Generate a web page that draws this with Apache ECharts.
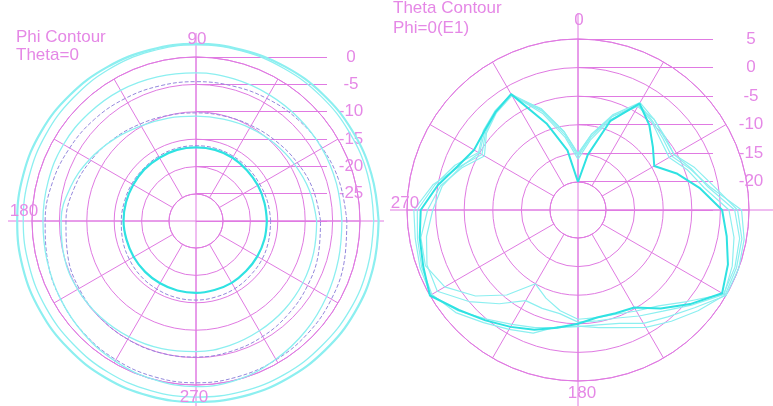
<!DOCTYPE html>
<html><head><meta charset="utf-8">
<script src="https://cdn.jsdelivr.net/npm/echarts@6/dist/echarts.min.js"></script>
<style>html,body{margin:0;padding:0;background:#fff}#c{width:773px;height:406px}</style>
</head><body><div id="c"></div><script>
// ---------- data ----------
var phiAngles = [0,15,30,45,60,75,90,105,120,135,150,165,180,195,210,225,240,255,270,285,300,315,330,345];
var phiL1 = [3.4,3.2,3.0,2.8,2.6,2.4,2.4,2.4,2.5,2.6,2.7,2.7,2.7,2.8,2.9,3.0,3.1,3.1,3.1,3.2,3.3,3.4,3.5,3.5];
var phiL2 = [2.5,2.5,2.4,2.3,2.2,2.2,2.2,2.1,2.0,1.8,1.7,1.6,1.6,1.6,1.7,1.8,2.0,2.1,2.2,2.3,2.4,2.4,2.5,2.5];
var phiL3 = [-3.3,-3.4,-3.4,-3.4,-3.3,-3.1,-2.9,-2.7,-2.4,-2.2,-2.0,-2.0,-2.0,-1.8,-1.4,-0.9,-0.4,0.0,0.3,0.0,-0.8,-1.6,-2.4,-3.0];
var phiL4 = [-2.4,-2.8,-3.3,-3.7,-4.1,-4.4,-4.5,-4.4,-4.1,-3.7,-3.3,-2.8,-2.4,-1.9,-1.4,-1.0,-0.7,-0.5,-0.4,-0.5,-0.7,-1.0,-1.4,-1.9];
var phiL5 = [-7.9,-8.5,-9.2,-9.8,-10.3,-10.7,-10.8,-10.5,-9.9,-8.8,-7.5,-6.2,-5.3,-5.0,-5.0,-5.2,-5.5,-5.8,-6.1,-6.4,-6.8,-7.1,-7.4,-7.7];
var phiL6 = [-7.2,-7.8,-8.6,-9.3,-9.8,-10.1,-10.2,-10.0,-9.5,-8.7,-7.8,-6.9,-6.2,-5.7,-5.3,-5.1,-5.0,-5.0,-5.1,-5.3,-5.6,-6.0,-6.4,-6.8];
var phiL7 = [-17.0,-17.0,-16.9,-16.8,-16.6,-16.5,-16.5,-16.5,-16.6,-16.6,-16.7,-16.7,-16.7,-16.8,-16.8,-16.8,-16.8,-16.8,-16.8,-16.9,-16.9,-17.0,-17.0,-17.0];
var phiL8 = [-16.3,-16.4,-16.5,-16.4,-16.3,-16.2,-16.2,-16.2,-16.3,-16.4,-16.4,-16.4,-16.3,-16.1,-15.9,-15.7,-15.6,-15.5,-15.5,-15.6,-15.7,-15.9,-16.0,-16.2];

var thetaAngles = [0,10,20,30,40,50,60,70,80,90,100,110,120,130,140,150,160,170,180,190,200,210,220,230,240,250,260,270,280,290,300,310,320,330,340,350];
var thR1 = [-20,-15.1,-8.3,-3.4,-5.5,-7.8,-9.5,-6.4,-3.2,0.3,1.5,3.0,4.2,0.7,-2.4,-5.2,-5.7,-5.8,-5.0,-4.0,-2.6,-1.3,0.3,2.3,5.0,3.9,3.2,2.6,0.0,-2.5,-3.9,-3.5,-2.5,-1.5,-8.8,-14.3];
var thR2 = [-15.5,-12.0,-7.5,-3.5,-4.6,-5.5,-6.0,-4.0,-1.5,3.7,4.6,5.0,5.0,1.7,-0.5,-2.0,-3.8,-4.5,-4.5,-4.0,-3.0,-1.8,0.0,2.5,4.8,4.5,4.0,3.8,0.8,-2.8,-5.5,-3.8,-2.6,-1.7,-6.5,-11.5];
var thR3 = [-15.0,-11.5,-7.5,-4.0,-4.2,-5.0,-5.5,-3.8,-1.8,2.5,3.8,4.3,4.5,0.0,-3.0,-4.5,-5.5,-5.8,-5.8,-7.0,-8.5,-10.0,-5.5,-1.5,2.0,3.5,3.0,1.4,-0.5,-3.3,-6.0,-4.0,-2.7,-1.8,-6.0,-11.0];
var thR4 = [-16.0,-12.5,-8.0,-3.8,-4.8,-6.0,-6.5,-4.5,-2.5,1.5,2.8,3.8,4.6,1.0,-1.8,-3.5,-4.8,-5.2,-5.3,-6.5,-6.6,-6.6,-3.5,0.0,3.5,3.2,2.0,0.5,-0.8,-3.0,-5.0,-3.6,-2.6,-1.6,-7.0,-12.0];
var thR5 = [-15.2,-11.5,-7.2,-3.2,-4.2,-5.2,-5.5,-3.2,-0.8,3.0,4.2,4.6,4.8,2.5,0.5,-1.2,-3.0,-4.0,-4.6,-4.2,-2.0,-0.8,0.8,3.0,4.6,4.2,3.6,3.2,0.5,-2.0,-4.8,-3.3,-2.3,-1.5,-6.2,-11.0];

var leftTicks = [-30,-25,-20,-15,-10,-5,0];
var rightTicks = [-25,-20,-15,-10,-5,0,5];
var leftAngleLabels = ['90','180','270'];
var rightAngleLabels = ['0','270','180'];
var leftTitle = ['Phi Contour','Theta=0'];
var rightTitle = ['Theta Contour','Phi=0(E1)'];

// ---------- layout ----------
var PINK = '#e07ae2', TXT = '#e588e6';
var CYAN = '#2fe2e2', CYAN_L = '#8ceff0', PURP = '#9488dc';
var FONT = '"Liberation Sans", Arial, sans-serif';
var FS = 17;
var L = {cx:196, cy:221, r0:27, r1:164, min:-25, max:0};
var R = {cx:578, cy:210, r0:28, r1:171, min:-20, max:5};
var EXTRA = 10; // dB of headroom on the (invisible) data polar

function closed(angles, vals){
  var d = angles.map(function(a,i){return [vals[i], a];});
  d.push([vals[0], 360]);
  return d;
}
function lser(pi, angles, vals, color, width, type, smooth){
  return {type:'line', coordinateSystem:'polar', polarIndex:pi, data:closed(angles, vals),
    showSymbol:false, smooth:smooth, clip:false, silent:true,
    lineStyle:{color:color, width:width, type:type||'solid'}, z:3};
}
function gridAxes(pi, c, startAngle, clockwise){
  return {
    angle:{polarIndex:pi, type:'value', min:0, max:360, interval:30, startAngle:startAngle, clockwise:clockwise,
      axisLine:{show:true, lineStyle:{color:PINK, width:1}}, axisTick:{show:false}, axisLabel:{show:false},
      splitLine:{show:true, lineStyle:{color:PINK, width:1}}},
    radius:{polarIndex:pi, type:'value', min:c.min, max:c.max, interval:5,
      axisLine:{show:false}, axisTick:{show:false}, axisLabel:{show:false},
      splitLine:{show:true, lineStyle:{color:PINK, width:1}}}
  };
}
function dataAxes(pi, c, startAngle, clockwise){
  return {
    angle:{polarIndex:pi, type:'value', min:0, max:360, startAngle:startAngle, clockwise:clockwise, show:false,
      axisLine:{show:false}, axisTick:{show:false}, axisLabel:{show:false}, splitLine:{show:false}},
    radius:{polarIndex:pi, type:'value', min:c.min, max:c.max + EXTRA, show:false,
      axisLine:{show:false}, axisTick:{show:false}, axisLabel:{show:false}, splitLine:{show:false}}
  };
}
function outerR(c){ return c.r1 + (c.r1 - c.r0) * EXTRA / (c.max - c.min); }

var gl = gridAxes(0, L, 0, false), gr = gridAxes(1, R, 90, true);
var dl = dataAxes(2, L, 0, false), dr = dataAxes(3, R, 90, true);

function t(x, y, s, align, va){
  return {type:'text', x:x, y:y, silent:true, z:10,
    style:{text:s, fill:TXT, fontSize:FS, fontFamily:FONT, align:align||'center', verticalAlign:va||'middle'}};
}
function ln(x1,y1,x2,y2){
  return {type:'line', silent:true, z:1, shape:{x1:x1,y1:y1,x2:x2,y2:y2}, style:{stroke:PINK, lineWidth:1}};
}

var option = {
  backgroundColor:'#ffffff',
  animation:false,
  polar:[
    {center:[L.cx, L.cy], radius:[L.r0, L.r1]},
    {center:[R.cx, R.cy], radius:[R.r0, R.r1]},
    {center:[L.cx, L.cy], radius:[L.r0, outerR(L)]},
    {center:[R.cx, R.cy], radius:[R.r0, outerR(R)]}
  ],
  angleAxis:[gl.angle, gr.angle, dl.angle, dr.angle],
  radiusAxis:[gl.radius, gr.radius, dl.radius, dr.radius],
  grid:[
    {left:L.cx, top:L.cy - L.r1, width:131, height:L.r1, outerBoundsMode:'none', containLabel:false},
    {left:R.cx, top:R.cy - R.r1, width:135, height:R.r1, outerBoundsMode:'none', containLabel:false}
  ],
  xAxis:[
    {gridIndex:0, type:'value', min:0, max:1, show:false},
    {gridIndex:1, type:'value', min:0, max:1, show:false}
  ],
  yAxis:[
    {gridIndex:0, type:'value', position:'right', min:leftTicks[0], max:leftTicks[leftTicks.length-1], interval:5,
      axisLine:{show:false}, axisTick:{show:false}, showMinLabel:false,
      splitLine:{show:true, lineStyle:{color:PINK, width:1}},
      axisLabel:{color:TXT, fontSize:FS, fontFamily:FONT, align:'center', margin:24,
        formatter:function(v){return v===leftTicks[0]?'':String(v);}}},
    {gridIndex:1, type:'value', position:'right', min:rightTicks[0], max:rightTicks[rightTicks.length-1], interval:5,
      axisLine:{show:false}, axisTick:{show:false}, showMinLabel:false,
      splitLine:{show:true, lineStyle:{color:PINK, width:1}},
      axisLabel:{color:TXT, fontSize:FS, fontFamily:FONT, align:'center', margin:38,
        formatter:function(v){return v===rightTicks[0]?'':String(v);}}}
  ],
  series:[
    lser(2, phiAngles, phiL4, PURP, 1, 'dashed', 0.4),
    lser(2, phiAngles, phiL6, PURP, 1, 'dashed', 0.4),
    lser(2, phiAngles, phiL8, PURP, 1, 'dashed', 0.4),
    lser(2, phiAngles, phiL2, CYAN_L, 1.3, 'solid', 0.4),
    lser(2, phiAngles, phiL3, CYAN_L, 1.3, 'solid', 0.4),
    lser(2, phiAngles, phiL5, CYAN_L, 1.3, 'solid', 0.4),
    lser(2, phiAngles, phiL1, CYAN_L, 2.2, 'solid', 0.4),
    lser(2, phiAngles, phiL7, CYAN, 2.2, 'solid', 0.4),
    lser(3, thetaAngles, thR2, CYAN_L, 1.2, 'solid', false),
    lser(3, thetaAngles, thR3, CYAN_L, 1.2, 'solid', false),
    lser(3, thetaAngles, thR4, CYAN_L, 1.2, 'solid', false),
    lser(3, thetaAngles, thR5, CYAN_L, 1.2, 'solid', false),
    lser(3, thetaAngles, thR1, CYAN, 2, 'solid', false)
  ],
  graphic:[
    ln(8, L.cy, 384, L.cy), ln(L.cx, 33, L.cx, 406),
    ln(390, R.cy, 773, R.cy), ln(R.cx, 13, R.cx, 406),
    t(16, 29, leftTitle[0], 'left', 'top'), t(16, 47, leftTitle[1], 'left', 'top'),
    t(393, 0, rightTitle[0], 'left', 'top'), t(393, 20, rightTitle[1], 'left', 'top'),
    t(197, 39, leftAngleLabels[0]), t(24, 211, leftAngleLabels[1]), t(194, 397, leftAngleLabels[2]),
    t(579, 20, rightAngleLabels[0]), t(405, 203, rightAngleLabels[1]), t(582, 393, rightAngleLabels[2])
  ]
};
var chart = echarts.init(document.getElementById('c'), null, {renderer:'canvas'});
chart.setOption(option);
</script></body></html>
